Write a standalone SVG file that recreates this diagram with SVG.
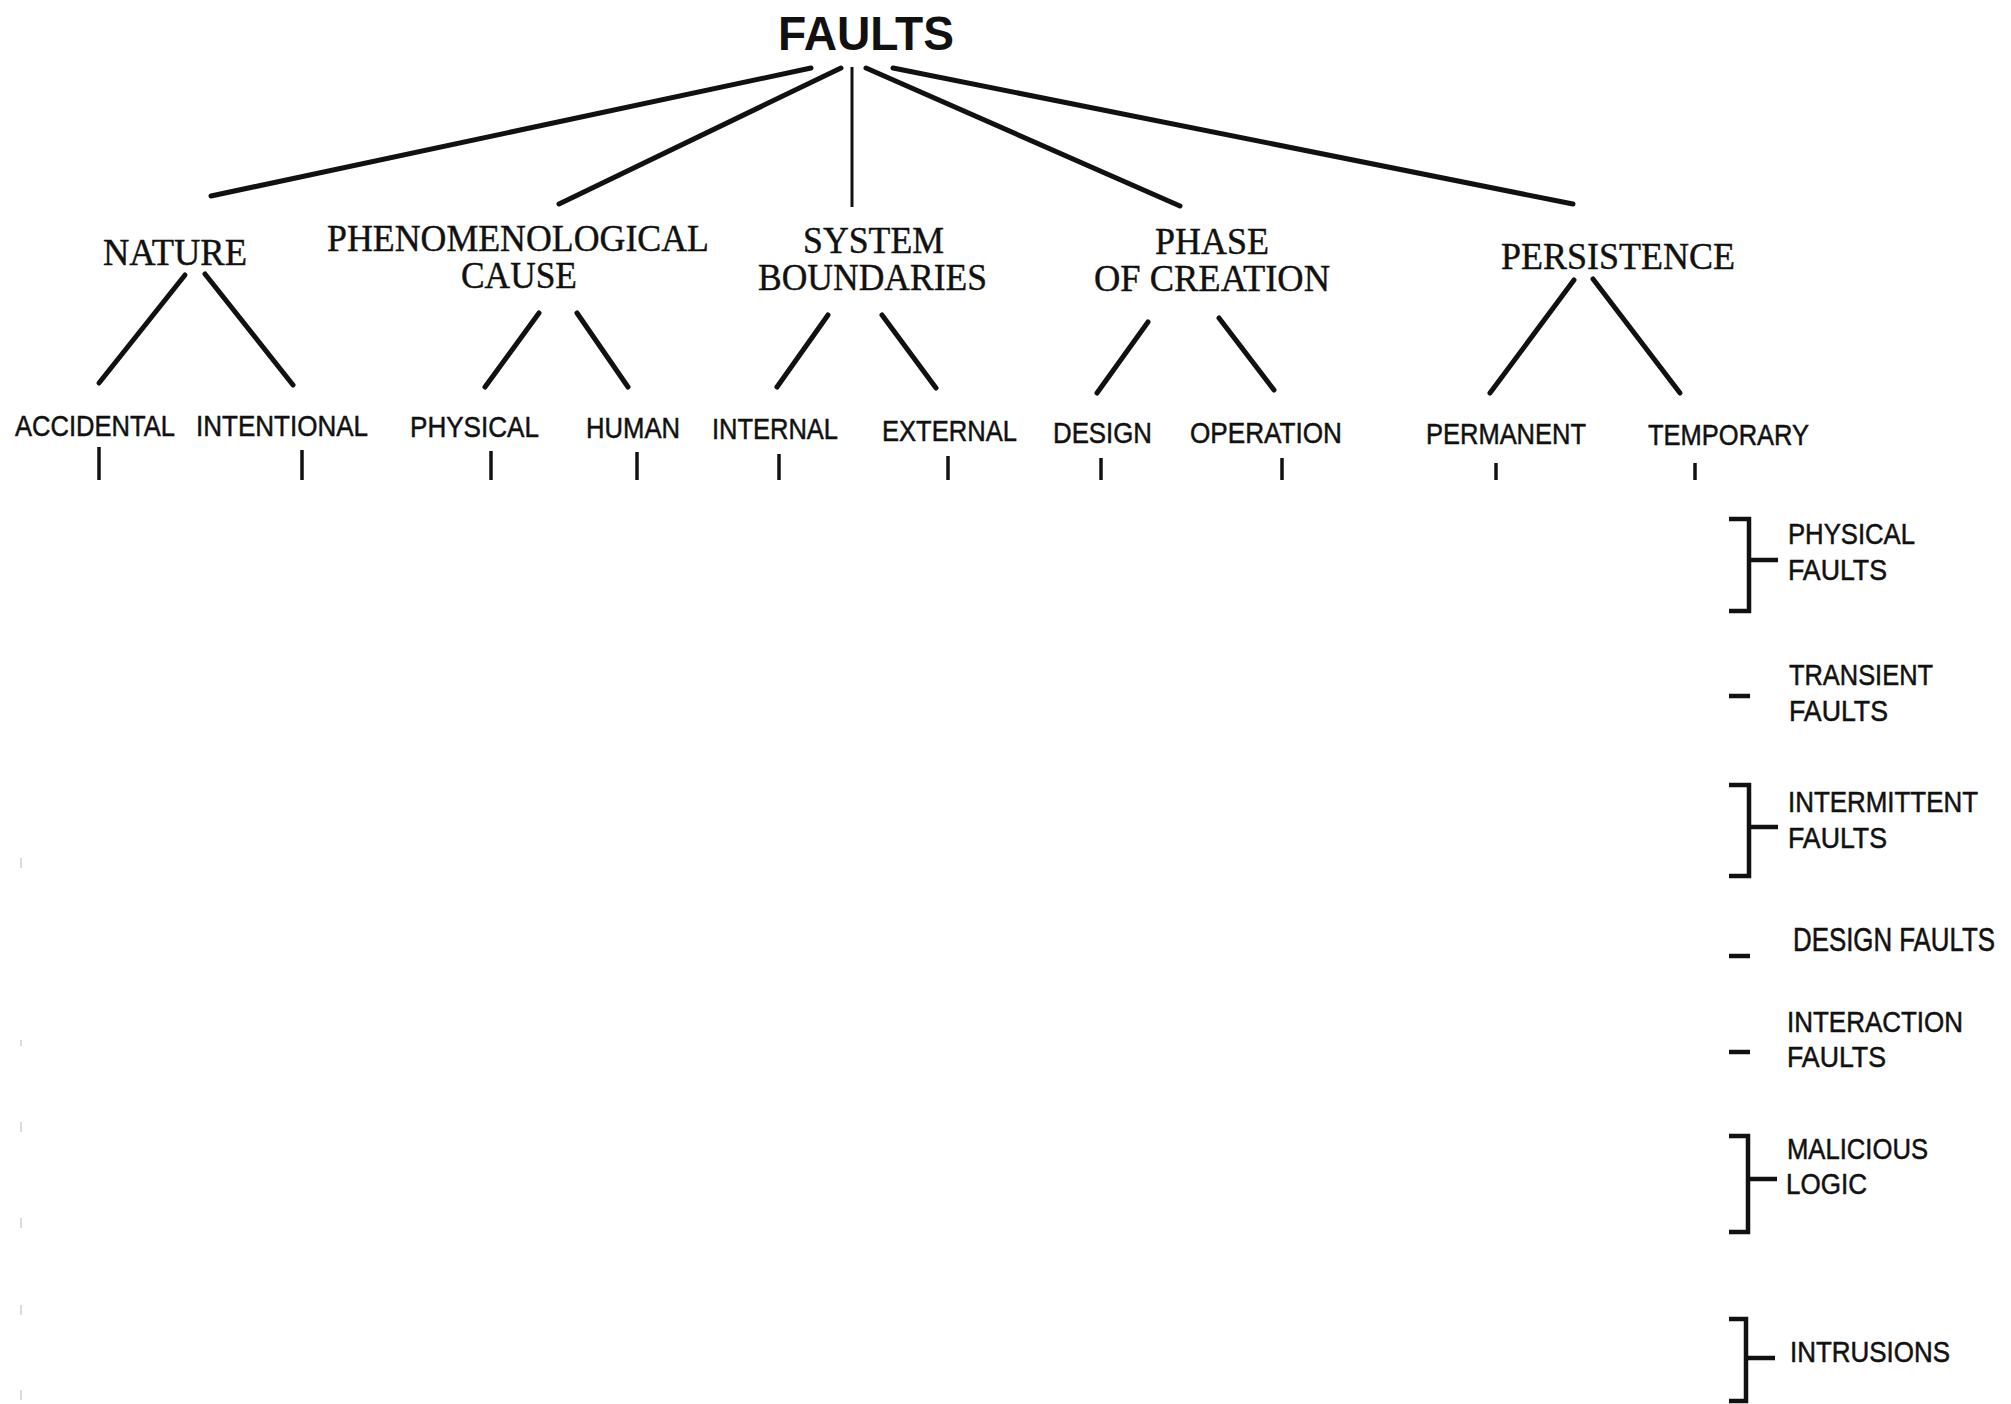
<svg xmlns="http://www.w3.org/2000/svg" width="2011" height="1404" viewBox="0 0 2011 1404">
  <style>
    .root { font-family: "Liberation Sans", Arial, sans-serif; font-weight: bold; font-size: 48px; fill: #111; }
    .cat { font-family: "Liberation Serif", "Times New Roman", serif; font-size: 37px; fill: #111; stroke: #111; stroke-width: 0.4; }
    .leaf { font-family: "Liberation Sans", Arial, sans-serif; font-size: 30px; fill: #111; stroke: #111; stroke-width: 0.5; }
    .cls { font-family: "Liberation Sans", Arial, sans-serif; font-size: 29px; fill: #111; stroke: #111; stroke-width: 0.5; }
    .edge { stroke: #111; stroke-width: 5; stroke-linecap: round; fill: none; }
    .thin { stroke: #111; stroke-width: 3; fill: none; }
    .tick { stroke: #111; stroke-width: 3.5; fill: none; }
    .brace { stroke: #111; stroke-width: 4.5; fill: none; stroke-linejoin: miter; }
    .speck { stroke: #cfcfcf; stroke-width: 1.5; fill: none; }
  </style>

  <rect width="2011" height="1404" fill="#fff"/>

  <!-- root -->
  <g id="faults">
    <text class="root" x="778" y="50" textLength="176" lengthAdjust="spacingAndGlyphs">FAULTS</text>
  </g>

  <!-- fault viewpoints -->
  <g id="nature">
    <text class="cat" x="103" y="265" textLength="144" lengthAdjust="spacingAndGlyphs">NATURE</text>
  </g>
  <g id="phenomenological-cause">
    <text class="cat" x="327" y="251" textLength="382" lengthAdjust="spacingAndGlyphs">PHENOMENOLOGICAL</text>
    <text class="cat" x="461" y="288" textLength="116" lengthAdjust="spacingAndGlyphs">CAUSE</text>
  </g>
  <g id="system-boundaries">
    <text class="cat" x="803" y="253" textLength="141" lengthAdjust="spacingAndGlyphs">SYSTEM</text>
    <text class="cat" x="758" y="290" textLength="229" lengthAdjust="spacingAndGlyphs">BOUNDARIES</text>
  </g>
  <g id="phase-of-creation">
    <text class="cat" x="1155" y="254" textLength="114" lengthAdjust="spacingAndGlyphs">PHASE</text>
    <text class="cat" x="1094" y="291" textLength="236" lengthAdjust="spacingAndGlyphs">OF CREATION</text>
  </g>
  <g id="persistence">
    <text class="cat" x="1501" y="269" textLength="234" lengthAdjust="spacingAndGlyphs">PERSISTENCE</text>
  </g>

  <!-- elementary classes -->
  <g id="accidental"><text class="leaf" x="15" y="436" textLength="160" lengthAdjust="spacingAndGlyphs">ACCIDENTAL</text></g>
  <g id="intentional"><text class="leaf" x="196" y="436" textLength="172" lengthAdjust="spacingAndGlyphs">INTENTIONAL</text></g>
  <g id="physical"><text class="leaf" x="410" y="437" textLength="129" lengthAdjust="spacingAndGlyphs">PHYSICAL</text></g>
  <g id="human"><text class="leaf" x="586" y="438" textLength="94" lengthAdjust="spacingAndGlyphs">HUMAN</text></g>
  <g id="internal"><text class="leaf" x="712" y="439" textLength="126" lengthAdjust="spacingAndGlyphs">INTERNAL</text></g>
  <g id="external"><text class="leaf" x="882" y="441" textLength="135" lengthAdjust="spacingAndGlyphs">EXTERNAL</text></g>
  <g id="design"><text class="leaf" x="1053" y="443" textLength="99" lengthAdjust="spacingAndGlyphs">DESIGN</text></g>
  <g id="operation"><text class="leaf" x="1190" y="443" textLength="152" lengthAdjust="spacingAndGlyphs">OPERATION</text></g>
  <g id="permanent"><text class="leaf" x="1426" y="444" textLength="160" lengthAdjust="spacingAndGlyphs">PERMANENT</text></g>
  <g id="temporary"><text class="leaf" x="1648" y="445" textLength="161" lengthAdjust="spacingAndGlyphs">TEMPORARY</text></g>

  <!-- combined fault classes -->
  <g id="physical-faults">
    <path class="brace" d="M1729 519 H1749 V611 H1729 M1749 560 H1778"/>
    <text class="cls" x="1788" y="544" textLength="127" lengthAdjust="spacingAndGlyphs">PHYSICAL</text>
    <text class="cls" x="1788" y="580" textLength="99" lengthAdjust="spacingAndGlyphs">FAULTS</text>
  </g>
  <g id="transient-faults">
    <path class="brace" d="M1729 696 H1750"/>
    <text class="cls" x="1789" y="685" textLength="144" lengthAdjust="spacingAndGlyphs">TRANSIENT</text>
    <text class="cls" x="1789" y="721" textLength="99" lengthAdjust="spacingAndGlyphs">FAULTS</text>
  </g>
  <g id="intermittent-faults">
    <path class="brace" d="M1729 785 H1749 V876 H1729 M1749 827 H1778"/>
    <text class="cls" x="1788" y="812" textLength="190" lengthAdjust="spacingAndGlyphs">INTERMITTENT</text>
    <text class="cls" x="1788" y="848" textLength="99" lengthAdjust="spacingAndGlyphs">FAULTS</text>
  </g>
  <g id="design-faults">
    <path class="brace" d="M1729 956 H1750"/>
    <text class="cls" transform="translate(1793 951) scale(1 1.16)" x="0" y="0" font-size="25" textLength="202" lengthAdjust="spacingAndGlyphs">DESIGN FAULTS</text>
  </g>
  <g id="interaction-faults">
    <path class="brace" d="M1729 1052 H1750"/>
    <text class="cls" x="1787" y="1032" textLength="176" lengthAdjust="spacingAndGlyphs">INTERACTION</text>
    <text class="cls" x="1787" y="1067" textLength="99" lengthAdjust="spacingAndGlyphs">FAULTS</text>
  </g>
  <g id="malicious-logic">
    <path class="brace" d="M1729 1136 H1748 V1232 H1729 M1748 1179 H1777"/>
    <text class="cls" x="1787" y="1159" textLength="141" lengthAdjust="spacingAndGlyphs">MALICIOUS</text>
    <text class="cls" x="1786" y="1194" textLength="81" lengthAdjust="spacingAndGlyphs">LOGIC</text>
  </g>
  <g id="intrusions">
    <path class="brace" d="M1729 1319 H1746 V1401 H1729 M1746 1358 H1775"/>
    <text class="cls" x="1790" y="1362" textLength="160" lengthAdjust="spacingAndGlyphs">INTRUSIONS</text>
  </g>

  <!-- connectors -->
  <g id="connectors">
    <!-- root to viewpoints -->
    <line class="edge" x1="811" y1="68" x2="211" y2="196"/>
    <line class="edge" x1="841" y1="68" x2="559" y2="204"/>
    <line class="thin" x1="852" y1="67" x2="852" y2="207"/>
    <line class="edge" x1="866" y1="68" x2="1180" y2="206"/>
    <line class="edge" x1="893" y1="68" x2="1573" y2="204"/>
    <!-- viewpoints to elementary classes -->
    <line class="edge" x1="185" y1="275" x2="99" y2="383"/>
    <line class="edge" x1="205" y1="274" x2="293" y2="385"/>
    <line class="edge" x1="539" y1="313" x2="485" y2="387"/>
    <line class="edge" x1="577" y1="313" x2="628" y2="387"/>
    <line class="edge" x1="828" y1="315" x2="777" y2="387"/>
    <line class="edge" x1="882" y1="315" x2="936" y2="388"/>
    <line class="edge" x1="1148" y1="322" x2="1097" y2="393"/>
    <line class="edge" x1="1219" y1="318" x2="1274" y2="390"/>
    <line class="edge" x1="1574" y1="280" x2="1490" y2="393"/>
    <line class="edge" x1="1593" y1="279" x2="1680" y2="393"/>
    <!-- stubs below elementary classes -->
    <line class="tick" x1="99" y1="447" x2="99" y2="480"/>
    <line class="tick" x1="302" y1="450" x2="302" y2="480"/>
    <line class="tick" x1="491" y1="451" x2="491" y2="480"/>
    <line class="tick" x1="637" y1="452" x2="637" y2="480"/>
    <line class="tick" x1="779" y1="454" x2="779" y2="480"/>
    <line class="tick" x1="948" y1="456" x2="948" y2="480"/>
    <line class="tick" x1="1101" y1="458" x2="1101" y2="480"/>
    <line class="tick" x1="1282" y1="458" x2="1282" y2="480"/>
    <line class="tick" x1="1496" y1="463" x2="1496" y2="480"/>
    <line class="tick" x1="1695" y1="463" x2="1695" y2="480"/>
  </g>

  <!-- faint margin marks -->
  <g id="margin-marks">
    <line class="speck" x1="21" y1="858" x2="21" y2="868"/>
    <line class="speck" x1="21" y1="1040" x2="21" y2="1046"/>
    <line class="speck" x1="21" y1="1122" x2="21" y2="1132"/>
    <line class="speck" x1="21" y1="1218" x2="21" y2="1228"/>
    <line class="speck" x1="21" y1="1305" x2="21" y2="1315"/>
    <line class="speck" x1="21" y1="1390" x2="21" y2="1400"/>
  </g>
</svg>
